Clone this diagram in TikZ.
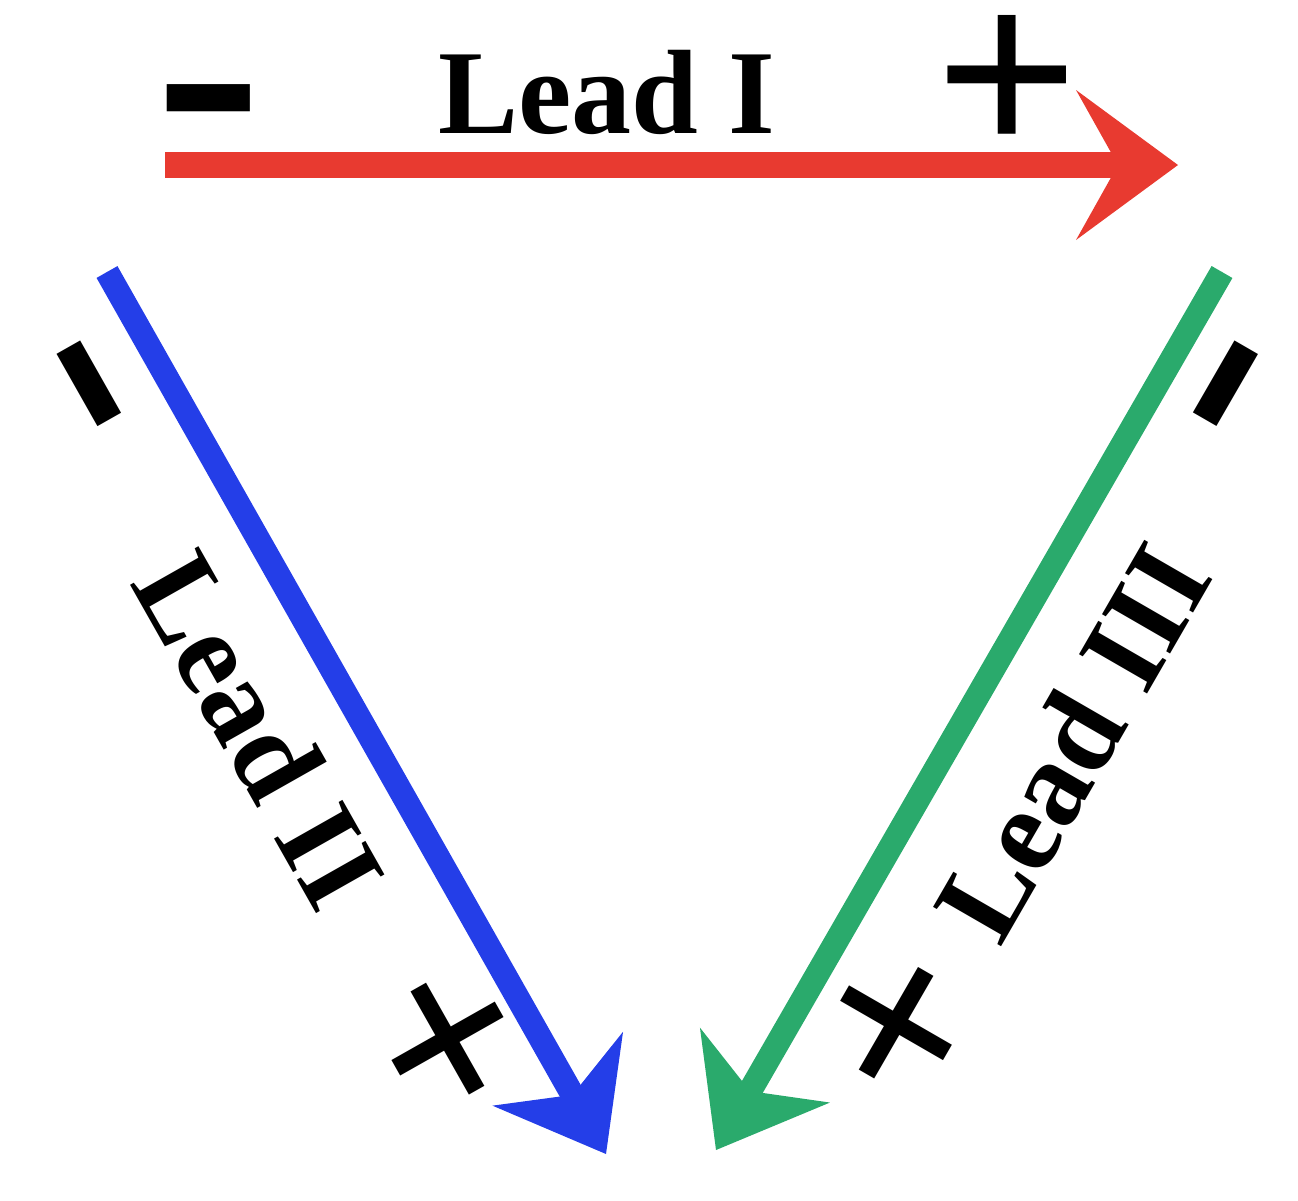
\documentclass[tikz,border=0pt]{standalone}
\usepackage{fontspec}
\setmainfont{Liberation Serif}
\usetikzlibrary{arrows.meta}
\definecolor{leadred}{RGB}{232,58,48}
\definecolor{leadblue}{RGB}{36,62,232}
\definecolor{leadgreen}{RGB}{42,170,108}
\begin{document}
\begin{tikzpicture}[x=1pt,y=-1pt,
  lbl/.style={font=\fontsize{120}{120}\selectfont\bfseries, inner sep=0pt},
  plussign/.style={font=\fontsize{255}{255}\selectfont\bfseries, inner sep=0pt},
  minussign/.style={font=\fontsize{320}{320}\selectfont\bfseries, inner sep=0pt, anchor=base},
  redshaft/.style={line width=26pt, shorten >=50pt},
  redhead/.style={line width=1pt, -{Stealth[length=102pt,width=150pt,inset=42pt,line width=0pt]}},
  sideshaft/.style={line width=24pt, shorten >=58pt},
  sidehead/.style={line width=1pt, -{Stealth[length=98pt,width=150pt,inset=30pt,line width=0pt]}}]
\useasboundingbox (0,0) rectangle (1298,1200);
\coordinate (rA) at (165,165);
\coordinate (rB) at (1178,165);
\coordinate (bA) at (107,272);
\coordinate (bB) at (606,1154);
\coordinate (gA) at (1222,272);
\coordinate (gB) at (716,1150);
\draw[leadred, redshaft] (rA) -- (rB);
\draw[leadred, redhead] (rA) -- (rB);
\draw[leadblue, sideshaft] (bA) -- (bB);
\draw[leadblue, sidehead] (bA) -- (bB);
\draw[leadgreen, sideshaft] (gA) -- (gB);
\draw[leadgreen, sidehead] (gA) -- (gB);
\node[lbl] (l1) at (607,92) {Lead I};
\node[lbl, rotate=-60.5] (l2) at (260,730) {Lead II};
\node[lbl, rotate=60] (l3) at (1072,742) {Lead III};
\node[plussign] (p1) at (1007,87) {+};
\node[plussign, rotate=-60.5] (p2) at (437,1045) {+};
\node[plussign, rotate=60] (p3) at (907,1030) {+};
\node[minussign] (m1) at (209,100) {\raisebox{-0.229em}{-}};
\node[minussign, rotate=-60.5] (m2) at (88,385) {\raisebox{-0.229em}{-}};
\node[minussign, rotate=60] (m3) at (1228,385) {\raisebox{-0.229em}{-}};
\end{tikzpicture}
\end{document}
